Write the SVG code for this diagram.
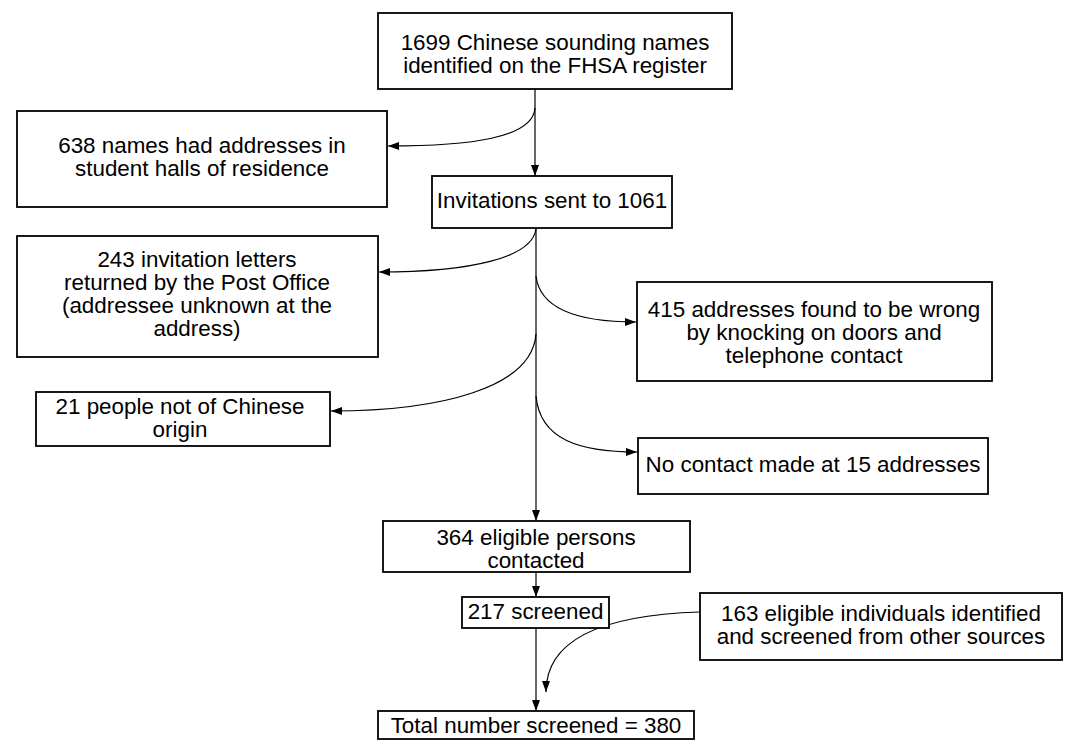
<svg xmlns="http://www.w3.org/2000/svg" width="1065" height="740" viewBox="0 0 1065 740">
<style>
.box{fill:#fff;stroke:#000;stroke-width:1.8}
.t{font-family:"Liberation Sans",Arial,Helvetica,sans-serif;font-size:22.4px;fill:#000;text-anchor:middle}
.c{fill:none;stroke:#000;stroke-width:1.2}
</style>
<defs>
<marker id="ah" markerUnits="userSpaceOnUse" markerWidth="11" markerHeight="8" refX="11" refY="4" orient="auto">
<path d="M0,0 L11,4 L0,8 z" fill="#000"/>
</marker>
</defs>
<rect width="1065" height="740" fill="#fff"/>
<g id="connectors">
<path class="c" d="M535 89 V176" marker-end="url(#ah)"/>
<path class="c" d="M536 228 V521" marker-end="url(#ah)"/>
<path class="c" d="M536 572 V597" marker-end="url(#ah)"/>
<path class="c" d="M536 628 V711" marker-end="url(#ah)"/>
<path class="c" d="M535 108 C533 138 470 146 388 146" marker-end="url(#ah)"/>
<path class="c" d="M536 229 C532 258 470 272 379 272" marker-end="url(#ah)"/>
<path class="c" d="M536 276 C540 310 580 322 636 322" marker-end="url(#ah)"/>
<path class="c" d="M536 334 C532 388 440 411 331 411" marker-end="url(#ah)"/>
<path class="c" d="M536 396 C540 440 580 452 637 452" marker-end="url(#ah)"/>
<path class="c" d="M700 612 C600 615 546 640 546 692" marker-end="url(#ah)"/>
</g>
<g id="n1699">
<rect class="box" x="378" y="13" width="354" height="76"/>
<text class="t" x="555" y="50">1699 Chinese sounding names</text>
<text class="t" x="555" y="73">identified on the FHSA register</text>
</g>
<g id="n638">
<rect class="box" x="17" y="111" width="370" height="96"/>
<text class="t" x="202" y="153">638 names had addresses in</text>
<text class="t" x="202" y="176">student halls of residence</text>
</g>
<g id="ninv">
<rect class="box" x="432" y="176" width="240" height="52"/>
<text class="t" x="552" y="208">Invitations sent to 1061</text>
</g>
<g id="n243">
<rect class="box" x="17" y="236" width="361" height="121"/>
<text class="t" x="197" y="267">243 invitation letters</text>
<text class="t" x="197" y="290">returned by the Post Office</text>
<text class="t" x="197" y="313">(addressee unknown at the</text>
<text class="t" x="197" y="336">address)</text>
</g>
<g id="n415">
<rect class="box" x="637" y="282" width="355" height="99"/>
<text class="t" x="814" y="317">415 addresses found to be wrong</text>
<text class="t" x="814" y="340">by knocking on doors and</text>
<text class="t" x="814" y="363">telephone contact</text>
</g>
<g id="n21">
<rect class="box" x="36" y="392" width="294" height="54"/>
<text class="t" x="180" y="414">21 people not of Chinese</text>
<text class="t" x="180" y="437">origin</text>
</g>
<g id="nnocontact">
<rect class="box" x="638" y="438" width="350" height="56"/>
<text class="t" x="813" y="472">No contact made at 15 addresses</text>
</g>
<g id="n364">
<rect class="box" x="383" y="521" width="307" height="51"/>
<text class="t" x="536" y="545">364 eligible persons</text>
<text class="t" x="536" y="568">contacted</text>
</g>
<g id="n217">
<rect class="box" x="462" y="597" width="147" height="31"/>
<text class="t" x="535.5" y="619">217 screened</text>
</g>
<g id="n163">
<rect class="box" x="700" y="593" width="362" height="67"/>
<text class="t" x="881" y="621">163 eligible individuals identified</text>
<text class="t" x="881" y="644">and screened from other sources</text>
</g>
<g id="ntotal">
<rect class="box" x="378" y="711" width="316" height="28"/>
<text class="t" x="536" y="733">Total number screened = 380</text>
</g>
</svg>
